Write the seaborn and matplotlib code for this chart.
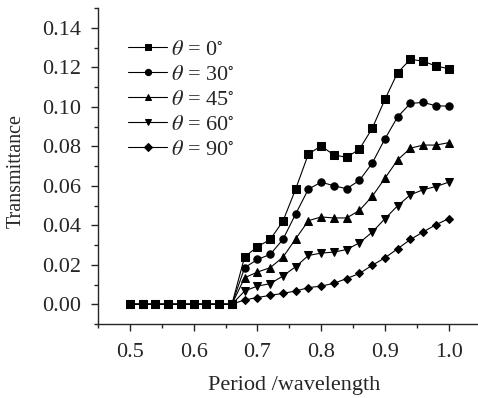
import numpy as np
import pandas as pd
import matplotlib
matplotlib.use("Agg")
import matplotlib.pyplot as plt
import seaborn as sns
from matplotlib.ticker import MultipleLocator

period = [0.50, 0.52, 0.54, 0.56, 0.58, 0.60, 0.62, 0.64, 0.66,
          0.68, 0.70, 0.72, 0.74, 0.76, 0.78, 0.80, 0.82, 0.84,
          0.86, 0.88, 0.90, 0.92, 0.94, 0.96, 0.98, 1.00]
zeros = [0.0] * 9
t_0 = zeros + [0.0240, 0.0291, 0.0328, 0.0420, 0.0583, 0.0761, 0.0801, 0.0756, 0.0744,
               0.0785, 0.0890, 0.1037, 0.1173, 0.1240, 0.1231, 0.1206, 0.1193]
t_30 = zeros + [0.0185, 0.0227, 0.0252, 0.0328, 0.0457, 0.0583, 0.0618, 0.0600, 0.0585,
                0.0627, 0.0714, 0.0837, 0.0949, 0.1017, 0.1022, 0.1005, 0.1003]
t_45 = zeros + [0.0134, 0.0163, 0.0185, 0.0238, 0.0331, 0.0423, 0.0442, 0.0437, 0.0437,
                0.0475, 0.0546, 0.0638, 0.0731, 0.0790, 0.0806, 0.0806, 0.0818]
t_60 = zeros + [0.0067, 0.0092, 0.0104, 0.0143, 0.0190, 0.0247, 0.0259, 0.0264, 0.0277,
                0.0311, 0.0365, 0.0433, 0.0499, 0.0554, 0.0580, 0.0596, 0.0618]
t_90 = zeros + [0.0022, 0.0034, 0.0045, 0.0055, 0.0067, 0.0084, 0.0092, 0.0106, 0.0130,
                0.0156, 0.0197, 0.0235, 0.0281, 0.0328, 0.0366, 0.0403, 0.0433]

series = [(t_0, 's', r'$\theta$ = 0$^{\circ}$'),
          (t_30, 'o', r'$\theta$ = 30$^{\circ}$'),
          (t_45, '^', r'$\theta$ = 45$^{\circ}$'),
          (t_60, 'v', r'$\theta$ = 60$^{\circ}$'),
          (t_90, 'D', r'$\theta$ = 90$^{\circ}$')]

sns.set_style("ticks")
plt.rcParams['font.family'] = ['Liberation Serif', 'DejaVu Serif']
plt.rcParams['mathtext.fontset'] = 'stix'

fig = plt.figure(figsize=(4.78, 3.98), dpi=100)
ax = fig.add_axes([98 / 478, 74 / 398, 380 / 478, 316 / 398])

for vals, mk, lab in series:
    df = pd.DataFrame({'period': period, 'T': vals})
    ms = 4.4 if mk == 'D' else 5.3
    sns.lineplot(data=df, x='period', y='T', ax=ax, color='black', lw=0.8,
                 marker=mk, markersize=ms, markeredgecolor='black', label=lab)

ax.set_xlim(0.45, 1.046)
ax.set_ylim(-0.01, 0.15)
ax.xaxis.set_minor_locator(MultipleLocator(0.05))
ax.yaxis.set_minor_locator(MultipleLocator(0.01))
ax.set_xticks([0.5, 0.6, 0.7, 0.8, 0.9, 1.0])
ax.set_xticklabels(['0.5', '0.6', '0.7', '0.8', '0.9', '1.0'])
ax.set_yticks([0.00, 0.02, 0.04, 0.06, 0.08, 0.10, 0.12, 0.14])
ax.set_yticklabels(['0.00', '0.02', '0.04', '0.06', '0.08', '0.10', '0.12', '0.14'])
ax.tick_params(which='major', length=5, width=1, labelsize=16, direction='out')
ax.tick_params(axis='x', which='major', pad=9)
ax.tick_params(axis='y', which='major', pad=7.5)
ax.tick_params(which='minor', length=3, width=1, direction='out')
for s in ['left', 'bottom']:
    ax.spines[s].set_linewidth(1)
sns.despine(ax=ax)

ax.set_xlabel('Period /wavelength', fontsize=16)
ax.set_ylabel('Transmittance', fontsize=14.5)
ax.xaxis.set_label_coords(0.515, -0.165)
ax.yaxis.set_label_coords(-0.19, 0.484)

ax.legend(loc='upper left', bbox_to_anchor=(0.08, 0.9), frameon=False,
          fontsize=16, handlelength=1.75, handletextpad=0.15, labelspacing=0.2,
          borderpad=0, borderaxespad=0, markerscale=0.85)

fig.savefig('out.png', dpi=100)
